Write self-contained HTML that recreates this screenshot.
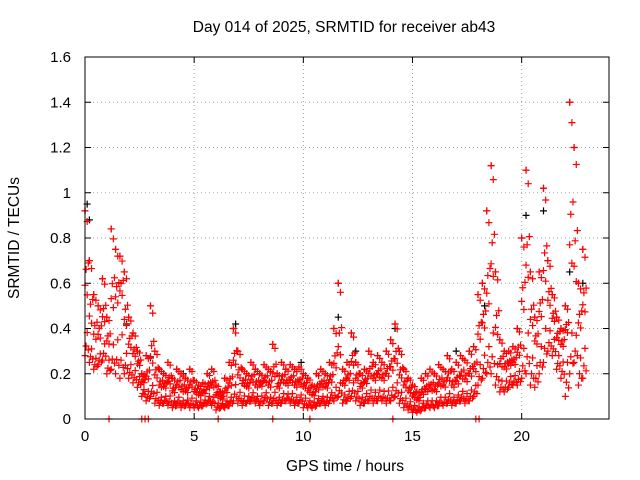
<!DOCTYPE html>
<html><head><meta charset="utf-8"><style>
html,body{margin:0;padding:0;background:#fff;}
svg{display:block;font-family:"Liberation Sans",sans-serif;}
</style></head><body>
<svg id="chart" width="640" height="480" viewBox="0 0 640 480">
<text x="344" y="32" font-size="15.5" text-anchor="middle">Day 014 of 2025, SRMTID for receiver ab43</text>
<text x="345" y="471" font-size="15.5" text-anchor="middle">GPS time / hours</text>
<text transform="translate(19,238) rotate(-90)" font-size="15.5" text-anchor="middle">SRMTID / TECUs</text>
<g id="grid"></g>
<g id="ticks"></g>
<g id="black"></g>
<g id="red"></g>
<rect x="85" y="57" width="524" height="362" fill="none" stroke="#000" stroke-width="1"/>
</svg>
<script>
const xTicks=[0,5,10,15,20];
const yTicks=[0,0.2,0.4,0.6,0.8,1,1.2,1.4,1.6];
const yTickLabels=["0","0.2","0.4","0.6","0.8","1","1.2","1.4","1.6"];
const timeStep=0.2;
const redHi=[0.92,0.7,0.55,0.5,0.62,0.45,0.84,0.75,0.72,0.65,0.45,0.38,0.3,0.2,0.28,0.5,0.3,0.22,0.2,0.25,0.18,0.22,0.2,0.18,0.22,0.17,0.15,0.16,0.2,0.22,0.15,0.12,0.18,0.25,0.4,0.3,0.22,0.2,0.25,0.22,0.2,0.24,0.22,0.33,0.2,0.25,0.22,0.24,0.22,0.23,0.2,0.18,0.15,0.2,0.22,0.2,0.25,0.4,0.6,0.22,0.25,0.38,0.25,0.2,0.22,0.3,0.25,0.28,0.25,0.3,0.35,0.42,0.3,0.22,0.18,0.15,0.12,0.18,0.2,0.22,0.2,0.24,0.22,0.28,0.22,0.25,0.28,0.26,0.3,0.32,0.55,0.6,0.92,1.12,0.65,0.35,0.3,0.3,0.32,0.4,0.8,1.1,0.65,0.45,0.65,1.02,0.7,0.55,0.45,0.4,0.5,1.4,1.2,0.6,0.75];
const redMid=[0.45,0.35,0.3,0.32,0.38,0.3,0.4,0.45,0.5,0.35,0.28,0.25,0.22,0.15,0.15,0.18,0.15,0.12,0.12,0.13,0.1,0.12,0.1,0.1,0.12,0.1,0.09,0.1,0.12,0.12,0.09,0.08,0.1,0.12,0.2,0.15,0.13,0.12,0.14,0.12,0.13,0.14,0.12,0.15,0.12,0.14,0.13,0.14,0.12,0.13,0.12,0.1,0.09,0.11,0.12,0.12,0.14,0.18,0.2,0.13,0.15,0.2,0.15,0.12,0.14,0.16,0.15,0.16,0.15,0.16,0.18,0.2,0.15,0.12,0.1,0.08,0.07,0.09,0.1,0.1,0.1,0.12,0.12,0.14,0.12,0.13,0.15,0.14,0.16,0.18,0.3,0.35,0.4,0.5,0.3,0.2,0.2,0.22,0.22,0.25,0.4,0.5,0.35,0.3,0.4,0.5,0.45,0.4,0.32,0.3,0.35,0.5,0.45,0.35,0.4];
const redLo=[0.28,0.25,0.22,0.24,0.26,0.2,0.22,0.2,0.18,0.2,0.18,0.16,0.14,0.1,0.08,0.1,0.07,0.06,0.07,0.06,0.05,0.06,0.05,0.06,0.05,0.05,0.05,0.06,0.07,0.06,0.04,0.05,0.05,0.06,0.08,0.07,0.06,0.07,0.08,0.07,0.06,0.08,0.06,0.07,0.06,0.07,0.08,0.07,0.06,0.07,0.05,0.05,0.05,0.06,0.07,0.06,0.08,0.08,0.1,0.07,0.08,0.1,0.08,0.06,0.07,0.08,0.07,0.08,0.08,0.07,0.08,0.1,0.07,0.05,0.04,0.03,0.03,0.04,0.05,0.05,0.05,0.06,0.06,0.07,0.06,0.07,0.08,0.07,0.08,0.1,0.15,0.18,0.2,0.2,0.15,0.12,0.12,0.14,0.15,0.15,0.18,0.2,0.15,0.14,0.2,0.25,0.3,0.28,0.22,0.18,0.1,0.2,0.25,0.15,0.18];
const zeroTimes=[1.1,2.6,2.75,2.9,6.1,8.6,10.3,14.1,17.9,18.05];
const blackTimes=[0.1,0.2,1.9,3.0,6.9,9.9,11.6,14.2,17.0,18.3,20.2,21.0,22.2,22.8,4.5,12.4];
const blackVals=[0.95,0.88,0.42,0.27,0.42,0.25,0.45,0.4,0.3,0.5,0.9,0.92,0.65,0.6,0.2,0.3];
const X0=85,X1=609,Y0=419,Y1=57,XMAX=24,YMAX=1.6;
const sx=t=>X0+(X1-X0)*t/XMAX, sy=v=>Y0-(Y0-Y1)*v/YMAX;
const NS="http://www.w3.org/2000/svg";
function mk(tag,attrs,parent){const e=document.createElementNS(NS,tag);for(const k in attrs)e.setAttribute(k,attrs[k]);parent.appendChild(e);return e;}
const grid=document.getElementById('grid'),ticks=document.getElementById('ticks');
xTicks.forEach(t=>{const x=sx(t);
 const g=mk('line',{x1:x,x2:x,y1:Y1,y2:Y0,stroke:'#a0a0a0','stroke-dasharray':'1,3'},grid);
 
 
 mk('line',{x1:x,x2:x,y1:Y0,y2:Y0-6,stroke:'#000'},ticks);
 mk('line',{x1:x,x2:x,y1:Y1,y2:Y1+6,stroke:'#000'},ticks);
 const l=mk('text',{x:x,y:Y0+22,'font-size':15,'text-anchor':'middle'},ticks);l.textContent=t;
 
 });
yTicks.forEach((v,i)=>{const y=sy(v);
 const g=mk('line',{x1:X0,x2:X1,y1:y,y2:y,stroke:'#a0a0a0','stroke-dasharray':'1,3'},grid);
 
 
 mk('line',{x1:X0,x2:X0+6,y1:y,y2:y,stroke:'#000'},ticks);
 mk('line',{x1:X1,x2:X1-6,y1:y,y2:y,stroke:'#000'},ticks);
 const l=mk('text',{x:X0-14,y:y+5,'font-size':15,'text-anchor':'end'},ticks);l.textContent=yTickLabels[i];
 
 });
function plus(t,v,col,parent){const x=sx(t),y=sy(v);
 const p=mk('path',{d:`M${x-3.5},${y}H${x+3.5}M${x},${y-3.5}V${y+3.5}`,stroke:col,'stroke-width':1.2,fill:'none'},parent);
 
 }
const blk=document.getElementById('black'),red=document.getElementById('red');
blackTimes.forEach((t,i)=>plus(t,blackVals[i],'#000',blk));
const fracPattern=[[0,0.5,1.0],[0.25,0.75,0.1],[0.6,0.35,0.9],[0.15,0.85,0.45]];
redHi.forEach((hi,i)=>{
 const t=i*timeStep, lo=redLo[i], mid=redMid[i];
 fracPattern.forEach((fr,k)=>{
  const tt=t+k*timeStep/4;
  plus(tt,lo+(mid-lo)*fr[0],'#ff0000',red);
  plus(tt,mid+(hi-mid)*fr[1]*0.6,'#ff0000',red);
  if(k===0||k===2) plus(tt,mid+(hi-mid)*fr[2],'#ff0000',red);
 });
 plus(t,hi,'#ff0000',red);
});
zeroTimes.forEach(t=>plus(t,0,'#ff0000',red));
</script>
</body></html>
